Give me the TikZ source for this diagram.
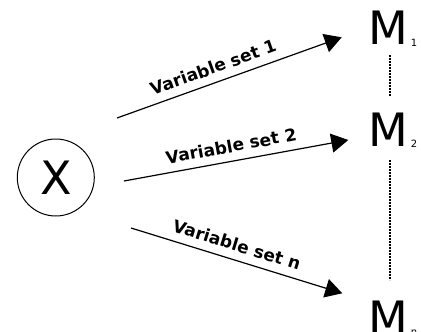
\documentclass[tikz,border=0pt]{standalone}
\usepackage{fontspec}
\setmainfont{DejaVu Sans}
\usetikzlibrary{arrows.meta}
\begin{document}
\begin{tikzpicture}[x=1pt,y=-1pt,
  link/.style={line width=1.2pt,-{Triangle[length=17pt,width=19pt]}},
  setlabel/.style={sloped,above=8pt,inner sep=0pt,font=\fontsize{17}{20}\selectfont\bfseries},
  model/.style={anchor=base west,inner sep=0pt,font=\fontsize{46}{50}\selectfont},
  idx/.style={anchor=base west,inner sep=0pt,font=\fontsize{10}{12}\selectfont},
  chain/.style={line width=1.2pt,dash pattern=on 2pt off 1pt}]
\useasboundingbox (0,0) rectangle (421,332);

% source
\node[circle,draw,line width=1pt,minimum size=77pt,inner sep=0pt,
      font=\fontsize{46}{50}\selectfont] (x) at (55.8,177.5) {X};

% models
\node[model] (m1) at (368.3,45) {M};
\node[idx] (i1) at (410.6,46.7) {1};
\node[model] (m2) at (368.3,146) {M};
\node[idx] (i2) at (410.6,147.7) {2};
\node[model] (mn) at (368.3,334) {M};
\node[idx] (in) at (410.6,335.7) {n};

% arrow end points
\coordinate (s1) at (117,118);
\coordinate (t1) at (341.7,37.3);
\coordinate (s2) at (124,181);
\coordinate (t2) at (348.3,140);
\coordinate (s3) at (131,228);
\coordinate (t3) at (342.3,293.3);

\draw[link] (s1) -- node[setlabel,pos=0.45] {Variable set 1} (t1);
\draw[link] (s2) -- node[setlabel,pos=0.49] {Variable set 2} (t2);
\draw[link] (s3) -- node[setlabel,pos=0.48] {Variable set n} (t3);

% dotted chain between the models
\coordinate (d1a) at (390,55);
\coordinate (d1b) at (390,97);
\coordinate (d2a) at (390,160);
\coordinate (d2b) at (390,280);
\draw[chain] (d1a) -- (d1b);
\draw[chain] (d2a) -- (d2b);
\end{tikzpicture}
\end{document}
